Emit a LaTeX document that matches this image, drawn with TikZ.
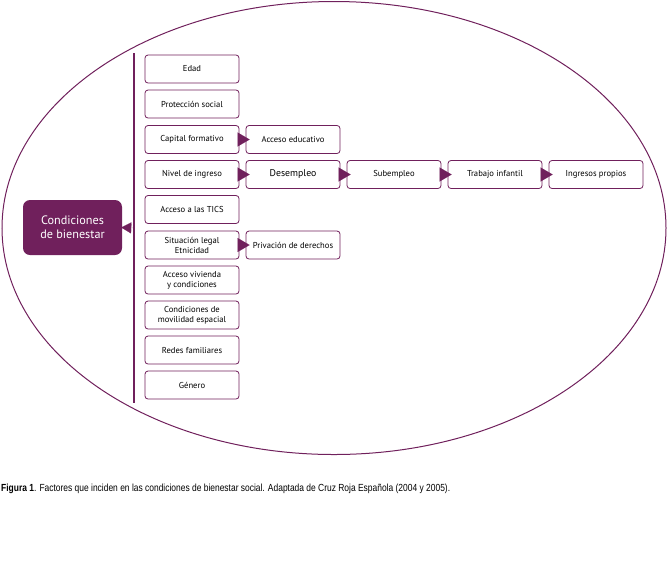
\documentclass[tikz,border=0pt]{standalone}
\usepackage{fontspec}
\setmainfont{PT Sans}
\newfontfamily\piefont[FakeStretch=0.82]{Liberation Sans}
\usetikzlibrary{arrows.meta}
\definecolor{morado}{RGB}{112,32,92}

\begin{document}
\begin{tikzpicture}[x=1pt,y=-1pt,
    factor/.style={draw=morado, line width=0.8pt, rounded corners=3pt,
      minimum width=94pt, minimum height=28pt, inner sep=1pt, align=center,
      text=black, font=\fontsize{8.6}{10}\selectfont},
    principal/.style={fill=morado, rounded corners=7pt, minimum width=99pt,
      minimum height=55pt, align=center, text=white,
      font=\fontsize{12.2}{14}\selectfont},
    flecha/.style={-{Triangle[length=12pt,width=14pt]}, morado,
      line width=0.1pt, shorten >=-4pt}]
			\useasboundingbox (0,0) rectangle (668,566);
			\draw[morado, line width=1pt] (334,228) ellipse [x radius=332, y radius=226.5];
			% caja principal y eje
			\node[principal] (bienestar) at (72.5,227.5) {Condiciones\\de bienestar};
			\coordinate (ejearriba) at (134,53);
			\coordinate (ejeabajo) at (134,403);
			\coordinate (eje) at (134,228);
			\draw[morado, line width=1.2pt] (ejearriba) -- (ejeabajo);
			\draw[-{Triangle[length=10pt,width=11pt]}, morado, line width=0.1pt, shorten >=-1pt] (eje) -- (bienestar.east);
			% factores
			\node[factor] (edad) at (192,69) {Edad};
			\node[factor] (proteccion) at (192,104) {Protección social};
			\node[factor] (capital) at (192,139.5) {Capital formativo};
			\node[factor] (ingreso) at (192,174.5) {Nivel de ingreso};
			\node[factor] (tics) at (192,209.5) {Acceso a las TICS};
			\node[factor] (legal) at (192,245) {Situación legal\\Etnicidad};
			\node[factor] (vivienda) at (192,280) {Acceso vivienda\\y condiciones};
			\node[factor] (movilidad) at (192,315) {Condiciones de\\movilidad espacial};
			\node[factor] (redes) at (192,350) {Redes familiares};
			\node[factor] (genero) at (192,385) {Género};
			% consecuencias
			\node[factor] (educativo) at (293,139.5) {Acceso educativo};
			\node[factor, font=\fontsize{9.8}{11}\selectfont] (desempleo) at (293,174.5) {Desempleo};
			\node[factor] (subempleo) at (394,174.5) {Subempleo};
			\node[factor] (infantil) at (495,174.5) {Trabajo infantil};
			\node[factor] (propios) at (596,174.5) {Ingresos propios};
			\node[factor] (derechos) at (293,245) {Privación de derechos};
			\draw[flecha] (capital.east) -- (educativo.west);
			\draw[flecha] (ingreso.east) -- (desempleo.west);
			\draw[flecha] (desempleo.east) -- (subempleo.west);
			\draw[flecha] (subempleo.east) -- (infantil.west);
			\draw[flecha] (infantil.east) -- (propios.west);
			\draw[flecha] (legal.east) -- (derechos.west);
			% pie de figura
			\node[anchor=base west, inner sep=0pt, font=\piefont\fontsize{10.3}{12}\selectfont] (pie) at (1,491)
				{\textbf{Figura 1}. Factores que inciden en las condiciones de bienestar social. Adaptada de Cruz Roja Española (2004 y 2005).};
		\end{tikzpicture}
\end{document}
